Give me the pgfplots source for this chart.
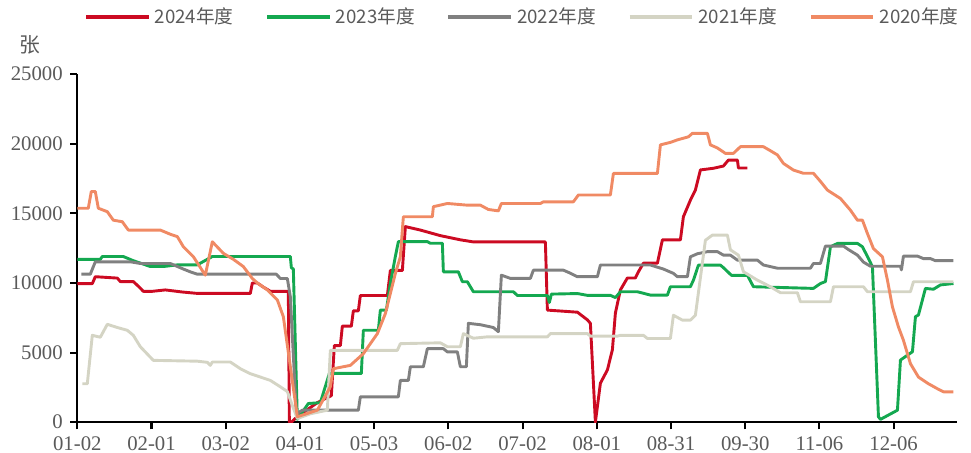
\documentclass[border=0pt]{standalone}
\usepackage{fontspec}
\setmainfont{Liberation Serif}
\newfontfamily\cjk{Noto Sans CJK SC}
\usepackage{pgfplots}
\pgfplotsset{compat=1.18}
\definecolor{c24}{RGB}{204,10,34}
\definecolor{c23}{RGB}{20,168,80}
\definecolor{c22}{RGB}{128,128,128}
\definecolor{c21}{RGB}{212,212,196}
\definecolor{c20}{RGB}{240,138,100}
\definecolor{tickgray}{RGB}{90,90,90}
\newcommand{\leg}[1]{\makebox[39bp][l]{#1}}
\begin{document}
\begin{tikzpicture}
\begin{axis}[
  scale only axis, width=422.4bp, height=167bp,
  xmin=0, xmax=880, ymin=0, ymax=25000,
  clip mode=individual,
  axis lines=left, axis line style={-, line width=1pt, black},
  xtick={0,74.2,148.4,222.6,296.8,371,445.2,519.4,593.6,667.8,742,816.2},
  xticklabels={01-02,02-01,03-02,04-01,05-03,06-02,07-02,08-01,08-31,09-30,11-06,12-06},
  ytick={0,5000,10000,15000,20000,25000},
  scaled y ticks=false,
  tick style={black, line width=1pt},
  tick align=outside, major tick length=3.5bp,
  tick label style={font=\fontsize{10}{12}\selectfont, text=tickgray},
  /pgf/number format/assume math mode=true,
  /pgf/number format/set thousands separator={},
  legend columns=5,
  legend style={draw=none, fill=none, at={(rel axis cs:0,1)}, anchor=west,
    yshift=27.4bp, font=\cjk\fontsize{9}{11}\selectfont, text=tickgray,
    /tikz/every even column/.append style={column sep=12bp}},
  legend image code/.code={\draw[#1, line width=2pt] (0bp,0bp) -- (30bp,0bp);},
  every axis plot/.append style={line width=1.4pt, line join=round},
]
\addplot[c24] coordinates {
(0,9950)(15,9950)(18,10450)(40,10350)(43,10100)(56,10100)(62,9700)(66,9400)(75,9400)
(88,9500)(105,9350)(120,9250)(173,9250)(175,10000)(180,10000)(185,9750)(193,9400)
(211,9400)(212,0)(214,0)(220,400)(240,1400)(248,1700)(254,1900)(257,5500)(263,5500)
(265,6900)(274,6900)(276,8000)(281,8000)(283,9100)(310,9100)(313,10900)(325,10900)
(328,14050)(343,13800)(363,13400)(383,13100)(396,12950)(468,12950)(470,8050)(500,7900)
(510,7350)(513,7100)(518,0)(523,2800)(530,3750)(535,5200)(538,7840)(543,9500)
(550,10360)(558,10360)(561,10800)(566,11420)(580,11420)(585,13100)(603,13100)
(606,14760)(613,15950)(618,16680)(623,18120)(636,18240)(646,18400)(651,18830)
(660,18830)(661,18260)(670,18260)};
\addlegendentry{\leg{2024年度}}
\addplot[c23] coordinates {
(0,11700)(23,11700)(25,11900)(46,11900)(56,11600)(73,11180)(86,11180)(100,11300)
(120,11300)(135,11900)(213,11900)(214,11100)(216,11000)(220,200)(231,1340)(243,1400)
(252,3500)(284,3500)(286,6600)(301,6600)(303,8050)(309,8050)(313,9970)(318,11900)
(321,12970)(350,12970)(353,12850)(365,12850)(366,10800)(381,10800)(385,10090)
(390,10090)(396,9370)(436,9370)(440,9100)(470,9100)(472,8600)(474,9200)(500,9240)
(510,9110)(533,9110)(538,8950)(543,9370)(560,9370)(573,9130)(590,9130)(593,9730)
(613,9730)(616,10200)(621,11280)(643,11280)(646,11100)(654,10550)(670,10550)
(676,9730)(736,9610)(743,9960)(748,10100)(753,12600)(760,12840)(780,12840)
(785,12600)(790,11900)(795,11170)(801,390)(803,200)(820,860)(823,4460)(835,5060)
(838,7580)(841,7700)(848,9610)(856,9550)(863,9860)(876,9960)};
\addlegendentry{\leg{2023年度}}
\addplot[c22] coordinates {
(4,10630)(13,10630)(18,11520)(53,11520)(63,11400)(93,11400)(106,11000)(113,10800)
(120,10630)(199,10630)(203,10320)(210,10320)(213,9000)(219,600)(225,860)(281,860)
(283,1820)(321,1820)(323,3000)(331,3000)(333,3980)(346,3980)(350,5280)(366,5280)
(370,5050)(380,5050)(383,3980)(389,3980)(391,7100)(403,7000)(416,6800)(421,6500)
(424,10560)(433,10330)(453,10330)(456,10920)(486,10920)(493,10700)(500,10450)
(520,10450)(523,11290)(573,11290)(586,11000)(596,10690)(600,10450)(610,10450)
(613,11880)(620,12100)(630,12250)(640,12250)(646,12000)(653,12000)(660,11640)
(680,11640)(686,11290)(700,11060)(733,11060)(736,11400)(743,11400)(748,12650)
(766,12650)(771,12400)(780,12000)(786,11500)(793,11200)(823,11200)(824,10940)
(826,11930)(840,11930)(846,11750)(853,11750)(858,11600)(876,11600)};
\addlegendentry{\leg{2022年度}}
\addplot[c21] coordinates {
(5,2760)(10,2760)(15,6240)(23,6100)(30,7030)(40,6800)(50,6600)(56,6240)(63,5420)
(76,4440)(120,4380)(130,4300)(133,4080)(135,4320)(153,4320)(163,3840)(173,3480)
(193,3000)(203,2540)(210,2200)(215,1200)(220,260)(233,600)(250,860)(253,5160)
(320,5160)(323,5640)(363,5700)(370,5420)(383,5420)(386,6360)(396,6030)(410,6130)
(470,6130)(473,6360)(510,6360)(513,6180)(540,6180)(543,6240)(566,6240)(570,6010)
(593,6010)(596,7680)(605,7330)(613,7330)(618,7680)(628,13070)(635,13440)(650,13440)
(653,12380)(661,12000)(666,10810)(680,10200)(693,9730)(703,9300)(720,9300)(723,8650)
(753,8650)(756,9730)(786,9730)(790,9370)(833,9370)(836,10090)(876,10090)};
\addlegendentry{\leg{2021年度}}
\addplot[c20] coordinates {
(0,15370)(11,15370)(14,16570)(18,16570)(21,15370)(30,15120)(36,14510)(45,14400)
(51,13800)(83,13800)(93,13500)(100,13330)(106,12610)(116,11890)(128,10560)
(135,12960)(146,12130)(156,11700)(166,11180)(175,10320)(180,10000)(190,9500)
(200,8780)(206,7580)(220,390)(240,860)(253,2540)(256,3840)(273,4080)(286,4920)
(300,6360)(308,7800)(318,10680)(323,11880)(326,14760)(355,14760)(356,15480)
(370,15710)(390,15590)(403,15590)(411,15280)(421,15180)(424,15710)(463,15710)
(466,15830)(496,15830)(501,16320)(533,16320)(536,17870)(580,17870)(583,19920)
(593,20100)(600,20280)(611,20500)(615,20750)(630,20750)(633,19920)(640,19700)
(648,19310)(656,19310)(663,19790)(686,19790)(693,19500)(700,19200)(706,18590)
(716,18110)(726,17880)(736,17880)(743,17300)(750,16670)(763,16070)(773,15230)
(780,14510)(785,14510)(790,13550)(796,12470)(805,11880)(810,10200)(815,8280)
(821,6840)(826,5880)(833,4200)(841,3240)(851,2760)(860,2400)(866,2180)(876,2180)};
\addlegendentry{\leg{2020年度}}
\node[font=\cjk\fontsize{10}{12}\selectfont, text=tickgray] at (rel axis cs:0,1) [xshift=-22.7bp, yshift=14bp] {张};
\end{axis}
\pgfresetboundingbox
\path[use as bounding box] (-37.1bp,-14.4bp) rectangle (428.9bp,202.6bp);
\end{tikzpicture}
\end{document}
